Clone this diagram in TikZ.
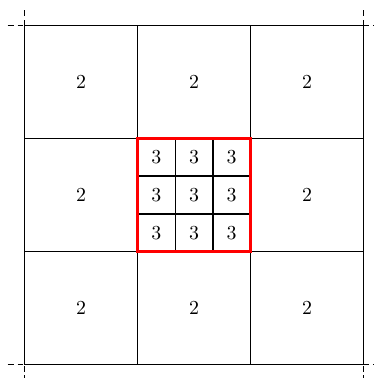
\documentclass[tikz,border=0pt]{standalone}
\begin{document}
\begin{tikzpicture}[
  gridline/.style={black, line width=0.7pt},
  ext/.style={black, densely dashed, line width=0.5pt},
  redbox/.style={red, line width=1.2pt},
  lbl/.style={inner sep=0pt, font=\normalsize}
]
\useasboundingbox (-0.434,-0.239) rectangle (6.17,6.451);
% dashed extensions
\foreach \v in {0,6} {
  \draw[ext] (\v,-0.3) -- (\v,0);
  \draw[ext] (\v,6) -- (\v,6.3);
  \draw[ext] (-0.3,\v) -- (0,\v);
  \draw[ext] (6,\v) -- (6.3,\v);
}
% outer grid
\draw[gridline] (0,0) rectangle (6,6);
\foreach \v in {2,4} {
  \draw[gridline] (\v,0) -- (\v,6);
  \draw[gridline] (0,\v) -- (6,\v);
}
% inner grid
\foreach \v in {2.6667,3.3333} {
  \draw[gridline] (\v,2) -- (\v,4);
  \draw[gridline] (2,\v) -- (4,\v);
}
\draw[redbox] (2,2) rectangle (4,4);
% labels 2
\foreach \i in {0,1,2} {
  \foreach \j in {0,1,2} {
    \ifnum\i=1 \ifnum\j=1 \else
      \node[lbl] (o\i\j) at (2*\i+1,2*\j+1) {2};
    \fi \else
      \node[lbl] (o\i\j) at (2*\i+1,2*\j+1) {2};
    \fi
  }
}
% labels 3
\foreach \i in {0,1,2} {
  \foreach \j in {0,1,2} {
    \node[lbl] (c\i\j) at ({2+(2*\i+1)/3},{2+(2*\j+1)/3}) {3};
  }
}
\end{tikzpicture}
\end{document}
